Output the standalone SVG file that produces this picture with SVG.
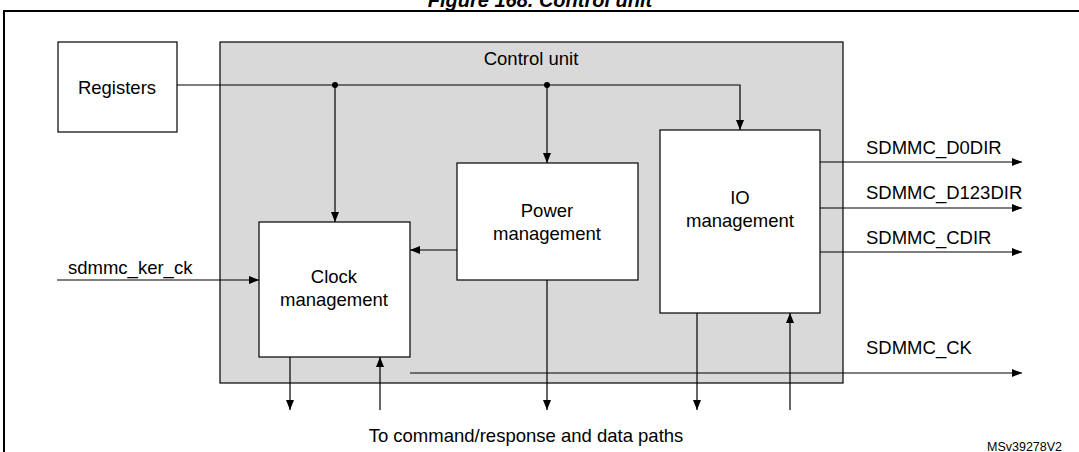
<svg xmlns="http://www.w3.org/2000/svg" width="1079" height="452" viewBox="0 0 1079 452">
<style>
text{font-family:"Liberation Sans",Arial,sans-serif;fill:#000}
.n{font-size:18.5px}
.b{fill:#fff;stroke:#000;stroke-width:1.2}
.c{fill:none;stroke:#000;stroke-width:1.2}
</style>
<defs><marker id="a" markerWidth="10" markerHeight="8" refX="10" refY="4" orient="auto" markerUnits="userSpaceOnUse"><path d="M0,0L10,4L0,8Z"/></marker></defs>
<rect width="1079" height="452" fill="#fff"/>
<text x="540" y="7" font-size="20" font-weight="bold" font-style="italic" text-anchor="middle">Figure 168. Control unit</text>
<rect x="4" y="11" width="1080" height="450" fill="none" stroke="#000" stroke-width="2"/>
<g id="control-unit"><rect x="220" y="42" width="623" height="341" fill="#d9d9d9" stroke="#000" stroke-width="1.2"/><text class="n" x="531" y="65" text-anchor="middle" font-size="19">Control unit</text></g>
<g id="registers"><rect class="b" x="58" y="42" width="119" height="90"/><text class="n" x="117" y="94" text-anchor="middle">Registers</text></g>
<g id="clock"><rect class="b" x="259" y="222" width="151" height="135"/><text class="n" x="334" y="283" text-anchor="middle">Clock</text><text class="n" x="334" y="306" text-anchor="middle">management</text></g>
<g id="power"><rect class="b" x="457" y="163" width="181" height="117"/><text class="n" x="547" y="217" text-anchor="middle">Power</text><text class="n" x="547" y="240" text-anchor="middle">management</text></g>
<g id="io"><rect class="b" x="660" y="130" width="160" height="183"/><text class="n" x="740" y="204" text-anchor="middle">IO</text><text class="n" x="740" y="227" text-anchor="middle">management</text></g>
<g id="connectors">
<path class="c" d="M177,85H740V130" marker-end="url(#a)"/>
<path class="c" d="M335,85V222" marker-end="url(#a)"/>
<path class="c" d="M547,85V163" marker-end="url(#a)"/>
<circle cx="335" cy="85" r="3"/><circle cx="547" cy="85" r="3"/>
<path class="c" d="M457,250H410" marker-end="url(#a)"/>
<path class="c" d="M57,280H259" marker-end="url(#a)"/>
<path class="c" d="M820,162H1022" marker-end="url(#a)"/>
<path class="c" d="M820,208H1022" marker-end="url(#a)"/>
<path class="c" d="M820,252H1022" marker-end="url(#a)"/>
<path class="c" d="M410,373H1022" marker-end="url(#a)"/>
<path class="c" d="M290,357V410" marker-end="url(#a)"/>
<path class="c" d="M380,410V357" marker-end="url(#a)"/>
<path class="c" d="M547,280V410" marker-end="url(#a)"/>
<path class="c" d="M697,313V410" marker-end="url(#a)"/>
<path class="c" d="M790,410V313" marker-end="url(#a)"/>
</g>
<text class="n" x="68" y="274">sdmmc_ker_ck</text>
<text class="n" x="866" y="154">SDMMC_D0DIR</text>
<text class="n" x="866" y="199">SDMMC_D123DIR</text>
<text class="n" x="866" y="244">SDMMC_CDIR</text>
<text class="n" x="866" y="354">SDMMC_CK</text>
<text class="n" x="526" y="442" text-anchor="middle">To command/response and data paths</text>
<text x="987" y="451" font-size="12.5">MSv39278V2</text>
</svg>
